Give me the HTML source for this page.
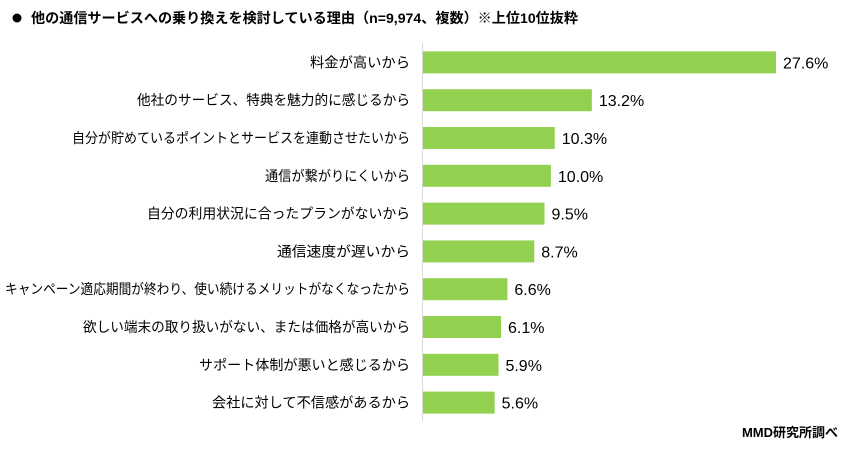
<!DOCTYPE html>
<html><head><meta charset="utf-8"><style>
body{margin:0;background:#fff;width:848px;height:447px;overflow:hidden;font-family:"Liberation Sans","Noto Sans CJK JP",sans-serif;}
svg text{font-family:"Liberation Sans","Noto Sans CJK JP",sans-serif;}
</style></head><body>
<svg id="chart" width="848" height="447" xmlns="http://www.w3.org/2000/svg">
<circle cx="17" cy="18" r="4.5" fill="#000"/>
<text x="31" y="23" font-size="14" font-weight="bold" fill="#000" textLength="547" lengthAdjust="spacingAndGlyphs">他の通信サービスへの乗り換えを検討している理由（n=9,974、複数）※上位10位抜粋</text>
<line x1="422.5" y1="43" x2="422.5" y2="421" stroke="#d9d9d9" stroke-width="1"/>
<g id="bars"></g>
<text x="838" y="437" font-size="13" font-weight="bold" text-anchor="end" fill="#000">MMD研究所調べ</text>
</svg>
<script>
const categories=["料金が高いから","他社のサービス、特典を魅力的に感じるから","自分が貯めているポイントとサービスを連動させたいから","通信が繋がりにくいから","自分の利用状況に合ったプランがないから","通信速度が遅いから","キャンペーン適応期間が終わり、使い続けるメリットがなくなったから","欲しい端末の取り扱いがない、または価格が高いから","サポート体制が悪いと感じるから","会社に対して不信感があるから"];
const values=[27.6,13.2,10.3,10.0,9.5,8.7,6.6,6.1,5.9,5.6];
const valueLabels=["27.6%","13.2%","10.3%","10.0%","9.5%","8.7%","6.6%","6.1%","5.9%","5.6%"];
const labelWidths=[100,273,338,145,263,133,405,327,211,198];
const x0=423,pxPer=353/27.6,yTop=43.5,step=37.8,barH=22;
const xs=v=>x0+v*pxPer;
const yc=i=>yTop+step*(i+0.5);
const g=document.getElementById('bars');
const NS="http://www.w3.org/2000/svg";
categories.forEach((c,i)=>{
 const r=document.createElementNS(NS,'rect');
 
 
 r.setAttribute('x',x0);r.setAttribute('y',yc(i)-barH/2);
 r.setAttribute('width',xs(values[i])-x0);r.setAttribute('height',barH);
 r.setAttribute('fill','#92d050');g.appendChild(r);
 const t=document.createElementNS(NS,'text');
 
 
 t.setAttribute('x',410);t.setAttribute('y',yc(i)+5);
 t.setAttribute('text-anchor','end');t.setAttribute('font-size','14');t.setAttribute('fill','#000');
 t.setAttribute('textLength',labelWidths[i]);t.setAttribute('lengthAdjust','spacingAndGlyphs');
 t.textContent=c;g.appendChild(t);
 const v=document.createElementNS(NS,'text');
 
 
 v.setAttribute('x',xs(values[i])+7);v.setAttribute('y',yc(i)+6);
 v.setAttribute('font-size','16');v.setAttribute('fill','#000');
 v.textContent=valueLabels[i];g.appendChild(v);
});
</script>
</body></html>
